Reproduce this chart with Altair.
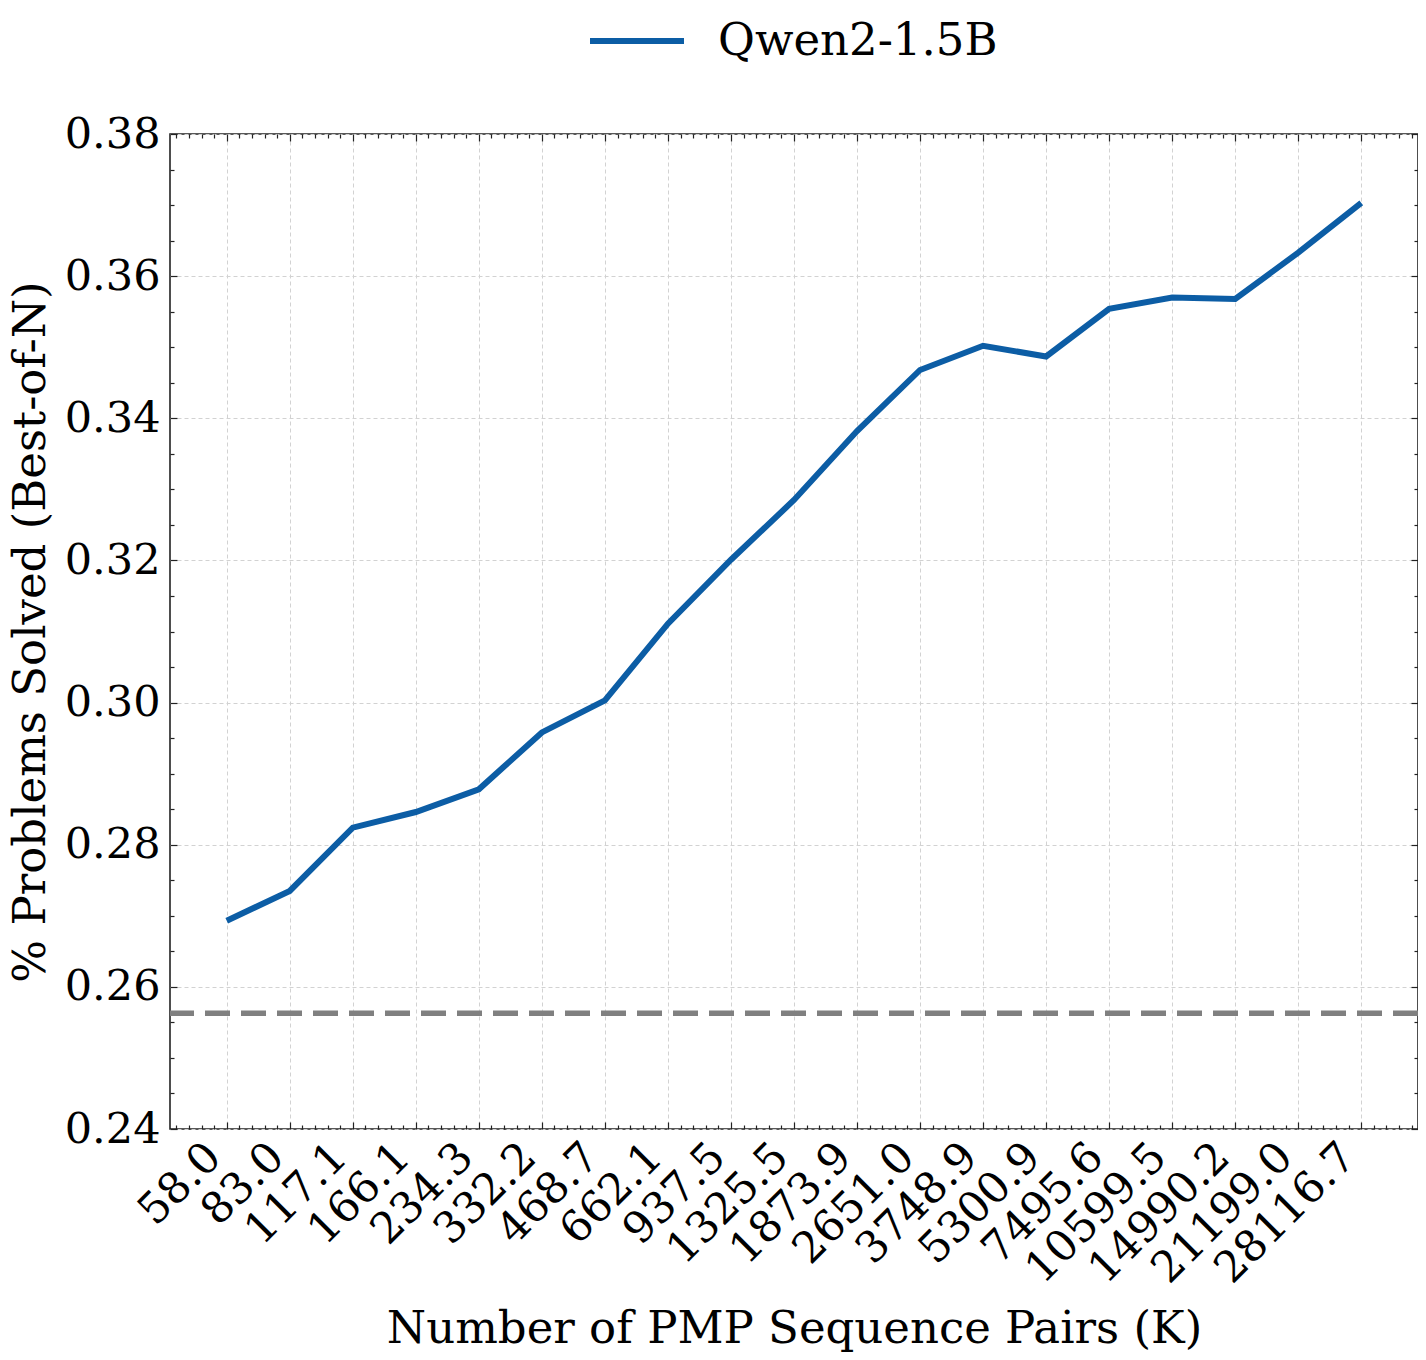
import altair as alt
import pandas as pd

# ---- data ----
x_labels = ["58.0", "83.0", "117.1", "166.1", "234.3", "332.2", "468.7", "662.1",
            "937.5", "1325.5", "1873.9", "2651.0", "3748.9", "5300.9", "7495.6",
            "10599.5", "14990.2", "21199.0", "28116.7"]
solved = [0.2693, 0.2735, 0.2824, 0.2846, 0.2878, 0.2958, 0.3003, 0.3111,
          0.3201, 0.3285, 0.3382, 0.3468, 0.3502, 0.3487, 0.3554, 0.3570,
          0.3568, 0.3633, 0.3703]
baseline = [0.2563]
model_name = "Qwen2-1.5B"

y_major = [0.24, 0.26, 0.28, 0.30, 0.32, 0.34, 0.36, 0.38]
x_major = list(range(len(x_labels)))
x_minor = [i / 5 for i in range(-4, 95) if i % 5]
y_minor = [round(0.24 + 0.005 * k, 4) for k in range(29) if k % 4]

df = pd.DataFrame({"idx": x_major, "solved": solved, "model": [model_name] * len(solved)})
base_df = pd.DataFrame({"base": baseline})

FONT = "DejaVu Serif"
FS_TICK = 43
FS_TITLE = 45
INK = "#222222"
xscale = alt.Scale(domain=[-0.9, 18.9], nice=False, zero=False)
yscale = alt.Scale(domain=[0.24, 0.38], nice=False, zero=False)

label_expr = "[" + ",".join("'%s'" % s for s in x_labels) + "][datum.value]"

x_main_axis = alt.Axis(
    values=x_major, labelExpr=label_expr, labelAngle=315, labelAlign="right",
    labelBaseline="top", labelPadding=6, labelOffset=-28, labelFlush=False,
    labelOverlap=False, labelFont=FONT, labelFontSize=FS_TICK, labelColor="black",
    ticks=False, domain=False, grid=True, gridDash=[4, 3], gridColor="#d2d2d2",
    gridWidth=1, title="Number of PMP Sequence Pairs (K)", titleFont=FONT,
    titleFontSize=FS_TITLE, titleFontWeight="normal", titleColor="black",
    titleY=213, titleBaseline="alphabetic",
)
y_main_axis = alt.Axis(
    values=y_major, format=".2f", labelFont=FONT, labelFontSize=FS_TICK,
    labelColor="black", labelPadding=10, labelFlush=False, labelOverlap=False,
    ticks=False, domain=False, grid=True, gridDash=[4, 3], gridColor="#d2d2d2",
    gridWidth=1, title="% Problems Solved (Best-of-N)", titleFont=FONT,
    titleFontSize=FS_TITLE, titleFontWeight="normal", titleColor="black",
    titleX=-126, titleBaseline="alphabetic",
)

rule = alt.Chart(base_df).mark_rule(color="#808080", strokeWidth=5.5, strokeDash=[25, 11]).encode(
    y=alt.Y("base:Q", scale=yscale, axis=None)
)

line = alt.Chart(df).mark_line(strokeWidth=6).encode(
    x=alt.X("idx:Q", scale=xscale, axis=x_main_axis),
    y=alt.Y("solved:Q", scale=yscale, axis=y_main_axis),
    color=alt.Color(
        "model:N", scale=alt.Scale(range=["#0C5DA5"]),
        legend=alt.Legend(
            orient="none", legendX=417, legendY=-143, direction="horizontal",
            title=None, symbolType="stroke", symbolSize=8836, symbolStrokeWidth=6,
            labelFont=FONT, labelFontSize=FS_TITLE, labelColor="black", labelOffset=31,
            labelLimit=0,
        ),
    ),
)


def tick_axis(orient, vals, size):
    return alt.Axis(
        orient=orient, values=vals, offset=-size, tickSize=size, ticks=True,
        tickColor=INK, tickWidth=1.2, labels=False, domain=False, grid=False,
        title=None,
    )


def tick_layer(xo, yo, xv, yv, size):
    return alt.Chart(df).mark_point(opacity=0).encode(
        x=alt.X("idx:Q", scale=xscale, axis=tick_axis(xo, xv, size)),
        y=alt.Y("solved:Q", scale=yscale, axis=tick_axis(yo, yv, size)),
    )


layers = [
    rule,
    line,
    tick_layer("bottom", "left", x_major, y_major, 7),
    tick_layer("bottom", "left", x_minor, y_minor, 4),
    tick_layer("top", "right", x_major, y_major, 7),
    tick_layer("top", "right", x_minor, y_minor, 4),
]

chart = (
    alt.layer(*layers)
    .resolve_axis(x="independent", y="independent")
    .properties(
        width=1248, height=995,
        padding={"left": 162, "top": 126, "right": 0, "bottom": 223},
        autosize=alt.AutoSizeParams(type="none"),
    )
    .configure_view(stroke=INK, strokeWidth=1.6)
)

chart.save("out.html", embed_options={"renderer": "svg", "actions": False})
